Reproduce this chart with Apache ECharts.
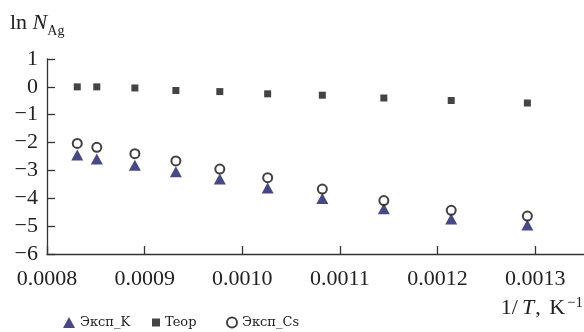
<!DOCTYPE html>
<html>
<head>
<meta charset="utf-8">
<script src="https://cdn.jsdelivr.net/npm/echarts@6/dist/echarts.min.js"></script>
<style>
html,body{margin:0;padding:0;background:#fff;}
#c{width:584px;height:332px;}
</style>
</head>
<body>
<div id="c"></div>
<script>
var invT = [0.000831, 0.000851, 0.000890, 0.000932, 0.000977, 0.001026, 0.001082, 0.001145, 0.001214, 0.001292];
var ekspK = [-2.45, -2.59, -2.81, -3.05, -3.31, -3.63, -4.01, -4.38, -4.74, -4.96];
var teor = [0.00, 0.00, -0.04, -0.13, -0.17, -0.25, -0.30, -0.40, -0.49, -0.58];
var ekspCs = [-2.03, -2.17, -2.40, -2.66, -2.95, -3.26, -3.67, -4.08, -4.43, -4.64];
var xTicks = [0.0008, 0.0009, 0.0010, 0.0011, 0.0012, 0.0013];
var seriesNames = ['Эксп_K', 'Teop', 'Эксп_Cs'];

function pairs(xs, ys){ return xs.map(function(x,i){ return [x, ys[i]]; }); }

var FONT = 'Liberation Serif';
var chart = echarts.init(document.getElementById('c'), null, {renderer:'canvas'});
var legendBase = {
  orient:'horizontal', top: 316, itemGap: 0, padding: 0,
  textStyle:{fontFamily:'DejaVu Serif', fontSize:13, color:'#222'},
  itemHeight: 11
};
chart.setOption({
  animation:false,
  backgroundColor:'#fff',
  grid:{left:47, right:0, top:59, bottom:78, containLabel:false, outerBoundsMode:'none'},
  xAxis:{
    type:'value', min:0.0008, max:0.00135, interval:0.0001,
    axisLine:{show:true, onZero:false, lineStyle:{color:'#333', width:1.3}},
    axisTick:{show:true, inside:true, length:8, lineStyle:{color:'#333', width:1.3}, customValues: xTicks},
    axisLabel:{fontFamily:FONT, fontSize:22, color:'#222', margin:14, customValues: xTicks,
      formatter:function(v){ return v.toFixed(4); }},
    splitLine:{show:false}
  },
  yAxis:{
    type:'value', min:-6, max:1, interval:1,
    axisLine:{show:true, lineStyle:{color:'#333', width:1.3}},
    axisTick:{show:true, inside:true, length:8, lineStyle:{color:'#333', width:1.3}},
    axisLabel:{fontFamily:FONT, fontSize:22, color:'#222', margin:9,
      formatter:function(v){ return String(v).replace('-', '\u2212'); }},
    splitLine:{show:false}
  },
  legend:[
    Object.assign({}, legendBase, {left:63, itemWidth:12, data:[{name:seriesNames[0], icon:'triangle'}]}),
    Object.assign({}, legendBase, {left:152, itemWidth:8, itemHeight:8, data:[{name:seriesNames[1], icon:'rect'}]}),
    Object.assign({}, legendBase, {left:226, itemWidth:10, itemHeight:10, data:[{name:seriesNames[2], icon:'emptyCircle'}]})
  ],
  series:[
    {name:seriesNames[0], type:'scatter', data:pairs(invT, ekspK), symbol:'triangle', symbolSize:[12,11],
      itemStyle:{color:'#1a1a66'}, z:2},
    {name:seriesNames[1], type:'scatter', data:pairs(invT, teor), symbol:'rect', symbolSize:7,
      itemStyle:{color:'#151515'}, z:2},
    {name:seriesNames[2], type:'scatter', data:pairs(invT, ekspCs), symbol:'emptyCircle', symbolSize:9,
      itemStyle:{color:'#111', borderColor:'#111', borderWidth:1.6}, z:3}
  ],
  graphic:[
    {type:'text', left:10, top:12, style:{
      text:'{a|ln }{i|N}{s|Ag}',
      rich:{
        a:{fontFamily:FONT, fontSize:22, fill:'#222', lineHeight:26, verticalAlign:'bottom'},
        i:{fontFamily:FONT, fontSize:22, fontStyle:'italic', fill:'#222', lineHeight:26, verticalAlign:'bottom'},
        s:{fontFamily:FONT, fontSize:14, fill:'#222', lineHeight:26, verticalAlign:'bottom', padding:[0,0,-4,0]}
      }}},
    {type:'text', right:1, top:296, style:{
      text:'{a|1/}{i|T}{a|, }{k|K}{u|\u22121}',
      rich:{
        a:{fontFamily:FONT, fontSize:22, fill:'#222', lineHeight:24},
        i:{fontFamily:FONT, fontSize:22, fontStyle:'italic', fill:'#222', lineHeight:24, padding:[0,1,0,4]},
        k:{fontFamily:FONT, fontSize:22, fill:'#222', lineHeight:24, padding:[0,1,0,3]},
        u:{fontFamily:FONT, fontSize:15, fill:'#222', lineHeight:24, verticalAlign:'top', padding:[0,0,8,1]}
      }}}
  ]
});
</script>
</body>
</html>
